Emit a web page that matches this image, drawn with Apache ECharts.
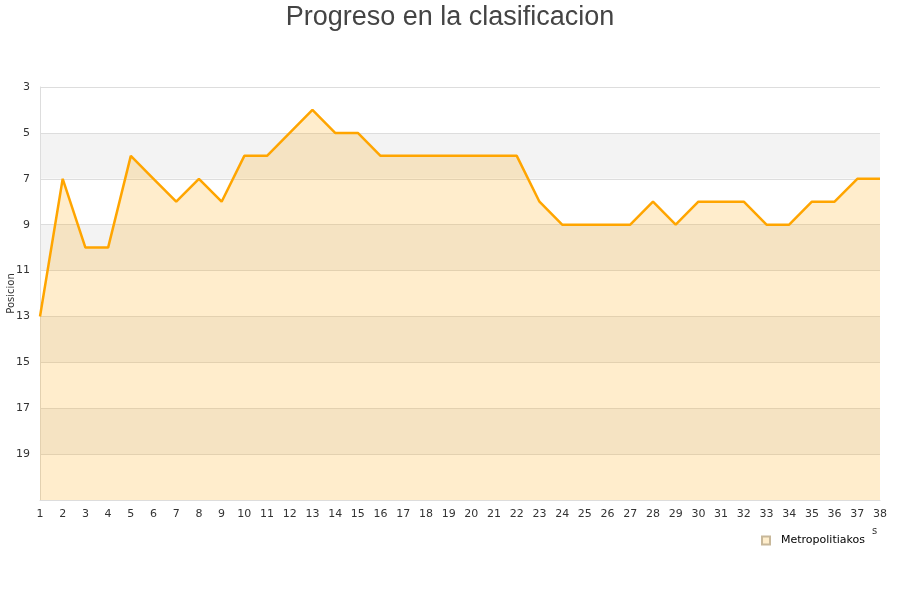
<!DOCTYPE html>
<html>
<head>
<meta charset="utf-8">
<script src="https://cdn.jsdelivr.net/npm/echarts@6/dist/echarts.min.js"></script>
<style>html,body{margin:0;padding:0;background:#fff}#c{width:900px;height:600px}</style>
</head>
<body>
<div id="c"></div>
<script>
var jornadas = [1,2,3,4,5,6,7,8,9,10,11,12,13,14,15,16,17,18,19,20,21,22,23,24,25,26,27,28,29,30,31,32,33,34,35,36,37,38];
var posiciones = [13,7,10,10,6,7,8,7,8,6,6,5,4,5,5,6,6,6,6,6,6,6,8,9,9,9,9,8,9,8,8,8,9,9,8,8,7,7];
var seriesName = 'Metropolitiakos';
var titleText = 'Progreso en la clasificacion';

var chart = echarts.init(document.getElementById('c'));
chart.setOption({
  animation: false,
  title: {
    text: titleText, left: 'center', top: -1,
    textStyle: {fontFamily: 'Liberation Sans', fontSize: 27, fontWeight: 'normal', color: '#444'}
  },
  legend: {
    data: [{name: seriesName, icon: 'rect'}],
    left: 756, top: 530, itemWidth: 8, itemHeight: 8, itemGap: 6,
    textStyle: {fontFamily: 'DejaVu Sans', fontSize: 11, color: '#000', padding: [0, 0, 0, 6]}
  },
  grid: {left: 40, right: 20, top: 87, bottom: 100, containLabel: false, outerBoundsMode: 'none'},
  xAxis: {
    type: 'value', min: 1, max: 38, interval: 1,
    axisLine: {show: true, lineStyle: {color: '#ddd'}},
    axisTick: {show: false},
    splitLine: {show: false},
    axisLabel: {fontFamily: 'DejaVu Sans', fontSize: 11, color: '#333', margin: 9}
  },
  yAxis: {
    type: 'value', inverse: true, min: 3, max: 21, interval: 2,
    name: 'Posicion', nameLocation: 'middle', nameGap: 24, nameMoveOverlap: false,
    nameTextStyle: {fontFamily: 'DejaVu Sans', fontSize: 10, color: '#333'},
    axisLine: {show: true, lineStyle: {color: '#ddd'}},
    axisTick: {show: false},
    splitLine: {show: true, lineStyle: {color: '#ddd'}},
    splitArea: {show: true, areaStyle: {color: ['#ffffff', '#f3f3f3']}},
    axisLabel: {fontFamily: 'DejaVu Sans', fontSize: 11, color: '#333', margin: 10,
      formatter: function(v){ return v === 21 ? '' : v; }}
  },
  series: [{
    name: seriesName, type: 'line',
    data: jornadas.map(function(j, i){ return [j, posiciones[i]]; }),
    symbol: 'none',
    lineStyle: {color: '#ffa500', width: 2.5},
    itemStyle: {color: '#ffeecc', borderColor: '#c8b89a', borderWidth: 1},
    areaStyle: {color: '#ffa500', opacity: 0.2, origin: 'end'}
  }],
  graphic: [{type: 'text', left: 872, top: 526, style: {text: 's', fontFamily: 'DejaVu Sans', fontSize: 10, fill: '#333'}}]
});
</script>
</body>
</html>
